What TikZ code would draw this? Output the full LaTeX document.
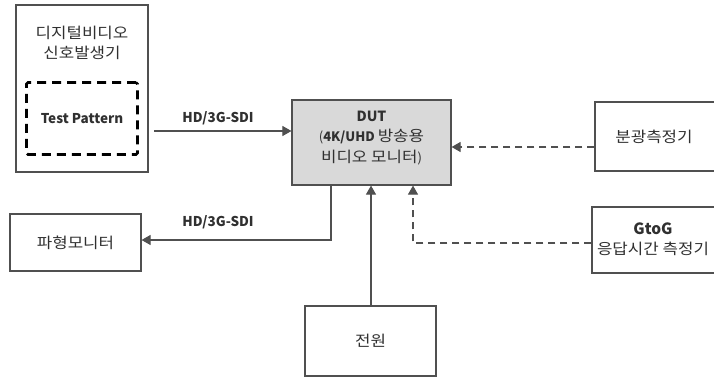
\documentclass[tikz,border=0pt]{standalone}
\usepackage{fontspec}
\setmainfont{Noto Sans CJK KR}
\newfontfamily\krfont{Noto Sans CJK KR}[FakeStretch=1.12]
\newcommand\kt[1]{{\krfont\fontsize{15}{20.5}\selectfont #1}}
\usetikzlibrary{arrows.meta}
\definecolor{ln}{HTML}{505050}
\definecolor{tx}{HTML}{303030}
\begin{document}
\begin{tikzpicture}[x=1pt,y=-1pt,
  box/.style={draw=ln,line width=1.2pt,align=center,text=tx,font=\fontsize{13}{20.5}\selectfont,inner sep=0pt},
  txt/.style={text=tx,align=center,font=\fontsize{13}{20.5}\selectfont},
  conn/.style={draw=ln,line width=1.1pt,-{Triangle[width=10pt,length=9pt]}},
  dconn/.style={conn,dash pattern=on 7pt off 5pt},
  lbl/.style={text=tx,font=\fontsize{13.5}{16}\selectfont\bfseries}]
\clip (0,0) rectangle (714,377);
\fill[white] (0,0) rectangle (714,377);
% signal generator
\node[box,minimum width=132pt,minimum height=167pt] (gen) at (82,88.5) {};
\node[txt] (gentxt) at (82,43) {\kt{디지털비디오}\\\kt{신호발생기}};
\node[draw=black,line width=2.8pt,dash pattern=on 9pt off 6pt,rounded corners=1.5pt,minimum width=111pt,minimum height=72pt,text=tx,font=\fontsize{13.5}{16}\selectfont\bfseries] (tp) at (82,118.5) {Test Pattern};
% DUT
\node[box,fill=black!15,minimum width=159pt,minimum height=85pt] (dut) at (371.5,142.5) {};
\node[txt] (duttxt) at (371.5,138) {{\fontsize{14}{20.5}\selectfont\textbf{DUT}}\\(\textbf{4K/UHD} \kt{방송용}\\\kt{비디오 모니터})};
% right boxes
\node[box,minimum width=130pt,minimum height=69pt] (spec) at (660,136.5) {};
\node[txt] (spectxt) at (654,137) {\kt{분광측정기}};
\node[box,minimum width=134pt,minimum height=66pt] (gtog) at (659,240) {};
\node[txt] (gtogtxt) at (653,239) {{\fontsize{15.5}{20.5}\selectfont\textbf{GtoG}}\\\kt{응답시간 측정기}};
% waveform monitor
\node[box,minimum width=131pt,minimum height=57pt] (wfm) at (75.5,242.5) {\kt{파형모니터}};
% power
\node[box,minimum width=131pt,minimum height=70pt] (pwr) at (370.5,341) {\kt{전원}};
% connectors
\coordinate (a1) at (154,131);
\draw[conn] (a1) -- (a1 -| dut.west);
\node[lbl] (l1) at (218,118) {HD/3G-SDI};
\coordinate (b1) at (331,240);
\draw[conn] (dut.south -| b1) -- (b1) -- (b1 -| wfm.east);
\node[lbl] (l2) at (218,222) {HD/3G-SDI};
\coordinate (c1) at (371,0);
\draw[conn] (pwr.north -| c1) -- (dut.south -| c1);
\coordinate (d1) at (413,243);
\draw[dconn] (d1 -| gtog.west) -- (d1) -- (dut.south -| d1);
\coordinate (e1) at (0,147);
\draw[dconn] (e1 -| spec.west) -- (e1 -| dut.east);
\end{tikzpicture}
\end{document}
